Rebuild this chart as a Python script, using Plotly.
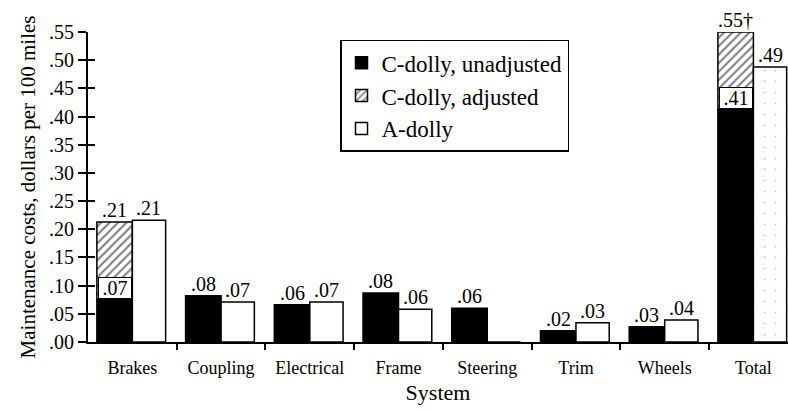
import plotly.graph_objects as go

systems = ["Brakes", "Coupling", "Electrical", "Frame", "Steering", "Trim", "Wheels", "Total"]
c_unadj = [0.076, 0.082, 0.066, 0.087, 0.060, 0.020, 0.027, 0.413]
c_adj_total = [0.213, None, None, None, None, None, None, 0.55]
a_dolly = [0.216, 0.071, 0.071, 0.058, 0.0, 0.034, 0.039, 0.488]

c_labels = [".21", ".08", ".06", ".08", ".06", ".02", ".03", ".55\u2020"]
c_unadj_box_labels = [".07", None, None, None, None, None, None, ".41"]
a_labels = [".21", ".07", ".07", ".06", "", ".03", ".04", ".49"]

y_ticks = [0.0, 0.05, 0.10, 0.15, 0.20, 0.25, 0.30, 0.35, 0.40, 0.45, 0.50, 0.55]
y_tick_text = [".00", ".05", ".10", ".15", ".20", ".25", ".30", ".35", ".40", ".45", ".50", ".55"]

FONT = "Liberation Serif"
idx = list(range(len(systems)))
C_W, A_W = 0.40, 0.375

fig = go.Figure()

fig.add_trace(go.Bar(
    name="C-dolly, unadjusted", x=idx, y=c_unadj, offset=-C_W, width=C_W,
    marker=dict(color="black", line=dict(color="black", width=1.5)),
    legendgroup="a",
))

adj_x = [i for i, v in zip(idx, c_adj_total) if v is not None]
adj_base = [c_unadj[i] for i in adj_x]
adj_h = [c_adj_total[i] - c_unadj[i] for i in adj_x]
fig.add_trace(go.Bar(
    name="C-dolly, adjusted", x=adj_x, y=adj_h, base=adj_base, offset=-C_W, width=C_W,
    marker=dict(color="white", line=dict(color="black", width=1.5),
                pattern=dict(shape="/", fgcolor="black", bgcolor="white", size=6, solidity=0.35)),
    legendgroup="b",
))

a_shapes = ["" for _ in systems]
a_shapes[-1] = "."
fig.add_trace(go.Bar(
    name="A-dolly", x=idx, y=a_dolly, offset=0, width=A_W,
    marker=dict(color="white", line=dict(color="black", width=1.5),
                pattern=dict(shape=a_shapes, fgcolor="#999999", bgcolor="white", size=11, solidity=0.03)),
    legendgroup="c",
))

# invisible axis for inward ticks
fig.add_trace(go.Scatter(x=[0], y=[0], yaxis="y2", mode="markers",
                         marker=dict(opacity=0), showlegend=False, hoverinfo="skip"))

annotations = []
lab_font = dict(family=FONT, size=20, color="black")
for i in idx:
    top_c = c_adj_total[i] if c_adj_total[i] is not None else c_unadj[i]
    annotations.append(dict(x=i - C_W / 2, y=top_c, text=c_labels[i], showarrow=False,
                            yanchor="bottom", yshift=-1, font=lab_font, xref="x", yref="y"))
    if a_labels[i]:
        annotations.append(dict(x=i + A_W / 2, y=a_dolly[i], text=a_labels[i], showarrow=False,
                                yanchor="bottom", yshift=-1, font=lab_font, xref="x", yref="y"))
    if c_unadj_box_labels[i]:
        annotations.append(dict(x=i - C_W / 2, y=c_unadj[i], text=c_unadj_box_labels[i], showarrow=False,
                                yanchor="bottom", font=lab_font, xref="x", yref="y",
                                bgcolor="white", bordercolor="black", borderwidth=1,
                                width=32, height=20, borderpad=0))

fig.update_layout(
    width=788, height=410,
    margin=dict(l=88, r=0, t=32, b=68),
    paper_bgcolor="white", plot_bgcolor="white",
    barmode="overlay",
    font=dict(family=FONT, size=15, color="black"),
    xaxis=dict(
        tickmode="array", tickvals=idx, ticktext=systems, automargin=False,
        range=[-0.5, 7.39], showline=True, linecolor="black", linewidth=2,
        ticks="outside", ticklen=0, showgrid=False, zeroline=False,
        tickfont=dict(family=FONT, size=18), ticklabelstandoff=8,
        title=dict(text="System", font=dict(family=FONT, size=22), standoff=8),
        minor=dict(tickvals=[i + 0.5 for i in idx[:-1]], ticks="outside", ticklen=6,
                   tickcolor="black", tickwidth=1.5, showgrid=False),
    ),
    yaxis=dict(
        range=[0, 0.55], tickmode="array", tickvals=y_ticks, ticktext=y_tick_text,
        automargin=False,
        showline=True, linecolor="black", linewidth=2, ticks="outside", ticklen=8,
        tickwidth=1.5, tickcolor="black", showgrid=False, zeroline=False,
        tickfont=dict(family=FONT, size=20),
        title=dict(text="Maintenance costs, dollars per 100 miles", font=dict(family=FONT, size=21), standoff=8),
    ),
    yaxis2=dict(
        overlaying="y", side="left", range=[0, 0.55], tickmode="array", tickvals=y_ticks,
        showticklabels=False, ticks="inside", ticklen=7, tickwidth=1.5, tickcolor="black",
        showgrid=False, zeroline=False, showline=False, automargin=False,
    ),
    legend=dict(
        x=0.36, y=0.975, xanchor="left", yanchor="top",
        bordercolor="black", borderwidth=1.5, bgcolor="white",
        font=dict(family=FONT, size=23), tracegroupgap=5,
        traceorder="normal", itemwidth=30,
    ),
    annotations=annotations,
    showlegend=True,
)

fig.write_html("out.html", post_script="document.body.style.margin='0';",
               config={"displayModeBar": False})
